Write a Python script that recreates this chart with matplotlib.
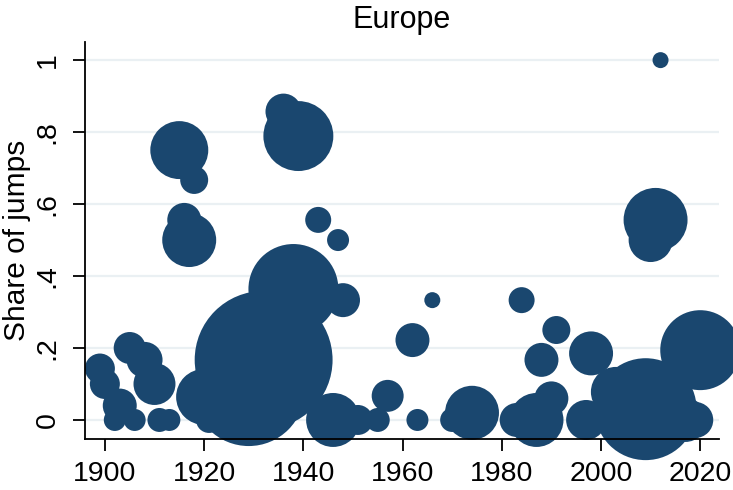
import matplotlib
matplotlib.use("Agg")
import matplotlib.pyplot as plt
import numpy as np

plt.rcParams['font.family'] = ['Liberation Sans', 'DejaVu Sans']

# year, share of jumps, bubble weight
years = [1899, 1900, 1902, 1903, 1905, 1906, 1908, 1910, 1911, 1913,
         1914, 1915, 1916, 1917, 1918, 1920, 1921, 1923, 1929, 1932,
         1936, 1938, 1939, 1943, 1946, 1947, 1948, 1951, 1955, 1957,
         1962, 1963, 1966, 1970, 1974, 1983, 1984, 1987, 1988, 1990,
         1991, 1997, 1998, 2003, 2009, 2010, 2011, 2012, 2017, 2019,
         2020]
share = [0.143, 0.10, 0.0, 0.04, 0.20, 0.0, 0.167, 0.10, 0.0, 0.0,
         0.5, 0.75, 0.556, 0.5, 0.667, 0.064, 0.0, 0.0, 0.083, 0.167,
         0.857, 0.364, 0.789, 0.556, 0.0, 0.5, 0.333, 0.0, 0.0, 0.067,
         0.222, 0.0, 0.333, 0.0, 0.02, 0.0, 0.333, 0.0, 0.167, 0.06,
         0.25, 0.0, 0.185, 0.078, 0.03, 0.5, 0.556, 1.0, 0.0, 0.0,
         0.194]
weight = [225, 225, 121, 289, 256, 121, 324, 441, 144, 121,
          100, 841, 289, 729, 196, 784, 169, 144, 3136, 4761,
          324, 2025, 1225, 169, 729, 121, 289, 225, 144, 256,
          289, 121, 64, 144, 729, 289, 169, 729, 289, 289,
          196, 400, 484, 625, 2601, 484, 1024, 64, 484, 324,
          1600]

navy = '#1a476f'

fig = plt.figure(figsize=(7.33, 4.90), dpi=100)
ax = fig.add_axes([0.116, 0.104, 0.865, 0.810])

sizes = np.array(weight) * 2.07
ax.scatter(years, share, s=sizes, color=navy, edgecolors='none',
           clip_on=False, zorder=3)

ax.set_xlim(1896, 2023.8)
ax.set_ylim(-0.053, 1.05)

ax.set_xticks([1900, 1920, 1940, 1960, 1980, 2000, 2020])
ax.set_yticks([0, 0.2, 0.4, 0.6, 0.8, 1])
ax.set_yticklabels(['0', '.2', '.4', '.6', '.8', '1'], rotation=90, va='center')

ax.yaxis.grid(True, color='#eaf0f3', linewidth=1.6, zorder=0)
ax.set_axisbelow(True)

for s in ['top', 'right']:
    ax.spines[s].set_visible(False)
for s in ['left', 'bottom']:
    ax.spines[s].set_linewidth(1.3)
    ax.spines[s].set_zorder(5)

ax.tick_params(axis='both', labelsize=20.5, length=8.5, width=1.3, direction='out')
ax.tick_params(axis='x', pad=7)
ax.tick_params(axis='y', pad=9)
ax.set_ylabel('Share of jumps', fontsize=21.5, labelpad=3)
ax.set_title('Europe', fontsize=22, pad=10)

fig.savefig('out.png', dpi=100)
